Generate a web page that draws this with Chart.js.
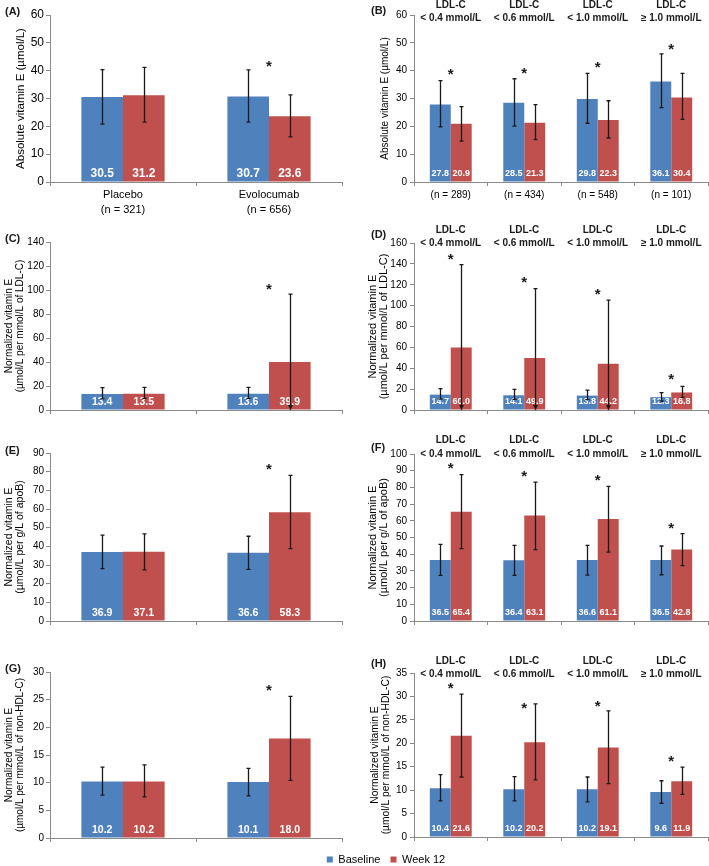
<!DOCTYPE html>
<html>
<head>
<meta charset="utf-8">
<script src="https://cdn.jsdelivr.net/npm/chart.js@4.4.1/dist/chart.umd.min.js"></script>
<style>
  body { margin: 0; background: #fff; }
  #page { position: relative; width: 709px; height: 866px; overflow: hidden; }
  canvas { position: absolute; }
</style>
</head>
<body>
<div id="page">
  <canvas id="cA" width="350" height="218" style="left:0;top:0"></canvas>
  <canvas id="cB" width="359" height="218" style="left:350px;top:0"></canvas>
  <canvas id="cC" width="350" height="208" style="left:0;top:218px"></canvas>
  <canvas id="cD" width="359" height="208" style="left:350px;top:218px"></canvas>
  <canvas id="cE" width="350" height="208" style="left:0;top:426px"></canvas>
  <canvas id="cF" width="359" height="208" style="left:350px;top:426px"></canvas>
  <canvas id="cG" width="350" height="212" style="left:0;top:634px"></canvas>
  <canvas id="cH" width="359" height="212" style="left:350px;top:634px"></canvas>
  <canvas id="cLegend" width="646" height="80" style="left:63px;top:844px"></canvas>
</div>
<script>
// ---- data ----
var seriesNames = ["Baseline", "Week 12"];
var groupLabels = [["Placebo", "(n = 321)"], ["Evolocumab", "(n = 656)"]];
var ldlLabels = ["(n = 289)", "(n = 434)", "(n = 548)", "(n = 101)"];
var ldlHeaders = [["LDL-C", "< 0.4 mmol/L"], ["LDL-C", "< 0.6 mmol/L"], ["LDL-C", "< 1.0 mmol/L"], ["LDL-C", "\u2265 1.0 mmol/L"]];

// (A) absolute vitamin E, by treatment
var aBase = [30.5, 30.7];
var aWeek = [31.2, 23.6];
var aBaseErr = [[20.8, 40.4], [21.5, 40.3]];
var aWeekErr = [[21.5, 41.2], [16.2, 31.3]];
var aStar = [null, 43.1];

// (B) absolute vitamin E, by LDL-C group
var bBase = [27.8, 28.5, 29.8, 36.1];
var bWeek = [20.9, 21.3, 22.3, 30.4];
var bBaseErr = [[19.8, 36.4], [20.1, 37.1], [21.1, 39.0], [26.7, 46.0]];
var bWeekErr = [[14.7, 27.1], [15.2, 27.8], [15.8, 29.2], [22.5, 39.0]];
var bStar = [39.9, 40.6, 42.6, 49.2];

// (C) per LDL-C
var cBase = [13.4, 13.6];
var cWeek = [13.5, 39.9];
var cBaseErr = [[9.2, 18.6], [9.7, 18.9]];
var cWeekErr = [[9.7, 18.9], [0, 96.6]];
var cStar = [null, 104];

// (D) per LDL-C, by LDL-C group
var dBase = [14.7, 14.1, 13.8, 12.3];
var dWeek = [60.0, 49.9, 44.2, 16.8];
var dBaseErr = [[10.5, 20.4], [10.2, 19.8], [9.9, 19.1], [8.6, 16.6]];
var dWeekErr = [[0, 139.3], [0, 116.3], [0, 105.2], [12.1, 22.6]];
var dStar = [148, 126, 115, 33.5];

// (E) per apoB
var eBase = [36.9, 36.6];
var eWeek = [37.1, 58.3];
var eBaseErr = [[28.1, 46.0], [27.7, 45.4]];
var eWeekErr = [[27.4, 46.7], [38.8, 78.0]];
var eStar = [null, 83.2];

// (F) per apoB, by LDL-C group
var fBase = [36.5, 36.4, 36.6, 36.5];
var fWeek = [65.4, 63.1, 61.1, 42.8];
var fBaseErr = [[27.3, 45.9], [27.3, 45.3], [27.5, 45.3], [27.7, 44.9]];
var fWeekErr = [[43.3, 87.6], [42.7, 83.2], [41.3, 80.6], [33.1, 52.3]];
var fStar = [94, 89, 86.5, 58];

// (G) per non-HDL-C
var gBase = [10.2, 10.1];
var gWeek = [10.2, 18.0];
var gBaseErr = [[7.75, 12.8], [7.6, 12.6]];
var gWeekErr = [[7.45, 13.2], [10.4, 25.6]];
var gStar = [null, 27.4];

// (H) per non-HDL-C, by LDL-C group
var hBase = [10.4, 10.2, 10.2, 9.6];
var hWeek = [21.6, 20.2, 19.1, 11.9];
var hBaseErr = [[7.7, 13.3], [7.7, 12.9], [7.5, 12.8], [7.2, 12.0]];
var hWeekErr = [[12.8, 30.5], [12.2, 28.4], [11.4, 26.9], [9.1, 14.9]];
var hStar = [32.5, 28.3, 28.8, 17.0];

var titleAbs = "Absolute vitamin E (\u00b5mol/L)";
var titleLdl = ["Normalized vitamin E", "(\u00b5mol/L per mmol/L of LDL-C)"];
var titleApoB = ["Normalized vitamin E", "(\u00b5mol/L per g/L of apoB)"];
var titleNonHdl = ["Normalized vitamin E", "(\u00b5mol/L per mmol/L of non-HDL-C)"];

// ---- drawing ----
var FONT = "'Liberation Sans', Arial, sans-serif";
var BLUE = "#4F81BD";
var RED = "#C0504D";
var AXIS = "#8a8a8a";
var INK = "#1a1a1a";

// value labels, error bars, asterisks, group headers and panel tag
var panelExtras = {
  id: "panelExtras",
  afterDatasetsDraw: function (chart) {
    var o = chart.options.plugins.panelExtras;
    var ctx = chart.ctx;
    var xs = chart.scales.x;
    var ys = chart.scales.y;
    var y0 = ys.getPixelForValue(0);
    ctx.save();

    ctx.fillStyle = "#fff";
    ctx.font = "bold " + o.valueSize + "px " + FONT;
    ctx.textAlign = "center";
    ctx.textBaseline = "middle";
    chart.data.datasets.forEach(function (ds, di) {
      chart.getDatasetMeta(di).data.forEach(function (bar, i) {
        ctx.fillText(ds.data[i].toFixed(1), bar.x, y0 - 8);
      });
    });

    ctx.strokeStyle = INK;
    ctx.fillStyle = INK;
    ctx.lineWidth = 1.3;
    chart.data.datasets.forEach(function (ds, di) {
      chart.getDatasetMeta(di).data.forEach(function (bar, i) {
        var lo = ds.errs[i][0], hi = ds.errs[i][1];
        var yt = ys.getPixelForValue(hi);
        var yb = ys.getPixelForValue(lo);
        var x = Math.round(bar.x) + 0.5;
        ctx.beginPath();
        ctx.moveTo(x, yt); ctx.lineTo(x, yb);
        ctx.moveTo(x - 2, yt); ctx.lineTo(x + 2, yt);
        if (lo > 0) { ctx.moveTo(x - 2, yb); ctx.lineTo(x + 2, yb); }
        ctx.stroke();
        if (lo <= 0) {
          // whisker runs below zero: arrow at the axis
          ctx.beginPath();
          ctx.moveTo(x - 2.5, yb - 5);
          ctx.lineTo(x + 2.5, yb - 5);
          ctx.lineTo(x, yb);
          ctx.closePath();
          ctx.fill();
        }
      });
    });

    ctx.font = "bold " + o.starSize + "px " + FONT;
    ctx.textBaseline = "alphabetic";
    o.stars.forEach(function (v, i) {
      if (v === null) return;
      ctx.fillText("*", xs.getPixelForValue(i), ys.getPixelForValue(v) + o.starSize * 0.57);
    });

    if (o.headers) {
      ctx.font = "bold 10px " + FONT;
      ctx.textBaseline = "middle";
      o.headers.forEach(function (lines, i) {
        var x = xs.getPixelForValue(i);
        ctx.fillText(lines[0], x, chart.chartArea.top + o.headerY[0]);
        ctx.fillText(lines[1], x, chart.chartArea.top + o.headerY[1]);
      });
    }

    ctx.font = "bold 11px " + FONT;
    ctx.textAlign = "left";
    ctx.textBaseline = "middle";
    ctx.fillText(o.tag, o.tagX, o.tagY);
    ctx.restore();
  }
};

function makePanel(id, o) {
  return new Chart(document.getElementById(id), {
    type: "bar",
    data: {
      labels: o.labels,
      datasets: [
        { label: seriesNames[0], data: o.base, errs: o.baseErr, backgroundColor: BLUE },
        { label: seriesNames[1], data: o.week, errs: o.weekErr, backgroundColor: RED }
      ]
    },
    options: {
      responsive: false,
      animation: false,
      events: [],
      datasets: { bar: { barPercentage: 1, categoryPercentage: 0.57 } },
      layout: { padding: { top: o.padTop, right: o.padRight, left: 0, bottom: 0 } },
      plugins: {
        legend: { display: false },
        tooltip: { enabled: false },
        panelExtras: {
          tag: o.tag, tagX: o.tagX, tagY: o.tagY,
          stars: o.stars, starSize: o.starSize || 15,
          valueSize: o.valueSize,
          headers: o.headers, headerY: o.headerY
        }
      },
      scales: {
        x: {
          grid: { drawOnChartArea: false, tickLength: 4, color: AXIS, offset: true },
          border: { color: AXIS },
          ticks: {
            display: o.showX,
            color: "#000",
            autoSkip: false,
            maxRotation: 0,
            padding: o.xPad,
            font: { family: FONT, size: o.xFont, lineHeight: o.xLine }
          },
          afterFit: function (s) { s.height = o.xHeight; }
        },
        y: {
          min: 0,
          max: o.max,
          ticks: {
            stepSize: o.step,
            color: "#000",
            padding: o.tickPad,
            font: { family: FONT, size: o.tickFont }
          },
          grid: { drawOnChartArea: false, tickLength: 4, color: AXIS },
          border: { color: AXIS },
          title: {
            display: true,
            text: o.title,
            color: "#000",
            font: { family: FONT, size: o.titleSize, lineHeight: o.titleLine },
            padding: { top: o.titlePad, bottom: 0 }
          },
          afterFit: function (s) { s.width = o.yWidth; }
        }
      }
    },
    plugins: [panelExtras]
  });
}

var left = { yWidth: 50, padRight: 8, tickPad: 2, tagX: 5 };
var right = { yWidth: 64, padRight: 1, tickPad: 3, tagX: 21, headers: ldlHeaders, valueSize: 9, tickFont: 10 };

function merge(a, b) {
  var r = {};
  Object.keys(a).forEach(function (k) { r[k] = a[k]; });
  Object.keys(b).forEach(function (k) { r[k] = b[k]; });
  return r;
}

makePanel("cA", merge(left, {
  labels: groupLabels, base: aBase, week: aWeek, baseErr: aBaseErr, weekErr: aWeekErr, stars: aStar,
  max: 60, step: 10, tag: "(A)", tagY: 12, padTop: 15, xHeight: 36, showX: true,
  xFont: 11, xLine: 1.36, xPad: 1.5, tickFont: 12, valueSize: 12,
  title: titleAbs, titleSize: 11.5, titleLine: 1.2, titlePad: 14
}));
makePanel("cB", merge(right, {
  labels: ldlLabels, base: bBase, week: bWeek, baseErr: bBaseErr, weekErr: bWeekErr, stars: bStar,
  max: 60, step: 10, tag: "(B)", tagY: 11, padTop: 15, xHeight: 36, showX: true,
  xFont: 10, xLine: 1.2, xPad: 3, headerY: [-10, 3],
  title: titleAbs, titleSize: 10, titleLine: 1.2, titlePad: 29
}));
makePanel("cC", merge(left, {
  labels: groupLabels, base: cBase, week: cWeek, baseErr: cBaseErr, weekErr: cWeekErr, stars: cStar,
  max: 140, step: 20, tag: "(C)", tagY: 21, padTop: 24, xHeight: 16, showX: false,
  xFont: 10, xLine: 1.2, xPad: 2, tickFont: 10, valueSize: 10.5,
  title: titleLdl, titleSize: 10, titleLine: 1.1, titlePad: 4
}));
makePanel("cD", merge(right, {
  labels: ldlLabels, base: dBase, week: dWeek, baseErr: dBaseErr, weekErr: dWeekErr, stars: dStar,
  max: 160, step: 20, tag: "(D)", tagY: 17, padTop: 25, xHeight: 16, showX: false,
  xFont: 10, xLine: 1.2, xPad: 2, headerY: [-13, 0],
  title: titleLdl, titleSize: 11, titleLine: 1, titlePad: 17.5
}));
makePanel("cE", merge(left, {
  labels: groupLabels, base: eBase, week: eWeek, baseErr: eBaseErr, weekErr: eWeekErr, stars: eStar,
  max: 90, step: 10, tag: "(E)", tagY: 25, padTop: 27, xHeight: 13, showX: false,
  xFont: 10, xLine: 1.2, xPad: 2, tickFont: 10, valueSize: 10.5,
  title: titleApoB, titleSize: 10.5, titleLine: 11 / 10.5, titlePad: 3.5
}));
makePanel("cF", merge(right, {
  labels: ldlLabels, base: fBase, week: fWeek, baseErr: fBaseErr, weekErr: fWeekErr, stars: fStar,
  max: 100, step: 10, tag: "(F)", tagY: 22, padTop: 28, xHeight: 13, showX: false,
  xFont: 10, xLine: 1.2, xPad: 2, headerY: [-14, 0],
  title: titleApoB, titleSize: 11, titleLine: 1, titlePad: 17.5
}));
makePanel("cG", merge(left, {
  labels: groupLabels, base: gBase, week: gWeek, baseErr: gBaseErr, weekErr: gWeekErr, stars: gStar,
  max: 30, step: 5, tag: "(G)", tagY: 35, padTop: 38, xHeight: 6, showX: false,
  xFont: 10, xLine: 1.2, xPad: 2, tickFont: 10, valueSize: 10.5,
  title: titleNonHdl, titleSize: 10, titleLine: 1.1, titlePad: 3.5
}));
makePanel("cH", merge(right, {
  labels: ldlLabels, base: hBase, week: hWeek, baseErr: hBaseErr, weekErr: hWeekErr, stars: hStar,
  max: 35, step: 5, tag: "(H)", tagY: 30, padTop: 39, xHeight: 6, showX: false,
  xFont: 10, xLine: 1.2, xPad: 2, headerY: [-12, 1],
  title: titleNonHdl, titleSize: 10.3, titleLine: 11 / 10.3, titlePad: 19.5
}));

// shared legend along the bottom
new Chart(document.getElementById("cLegend"), {
  type: "bar",
  data: {
    labels: [],
    datasets: [
      { label: seriesNames[0], data: [], backgroundColor: BLUE, borderWidth: 0 },
      { label: seriesNames[1], data: [], backgroundColor: RED, borderWidth: 0 }
    ]
  },
  options: {
    responsive: false,
    animation: false,
    events: [],
    plugins: {
      legend: {
        display: true,
        position: "top",
        labels: { boxWidth: 6, boxHeight: 6, padding: 10, color: "#000", font: { family: FONT, size: 11 } }
      },
      tooltip: { enabled: false }
    },
    scales: { x: { display: false }, y: { display: false } }
  }
});
</script>
</body>
</html>
